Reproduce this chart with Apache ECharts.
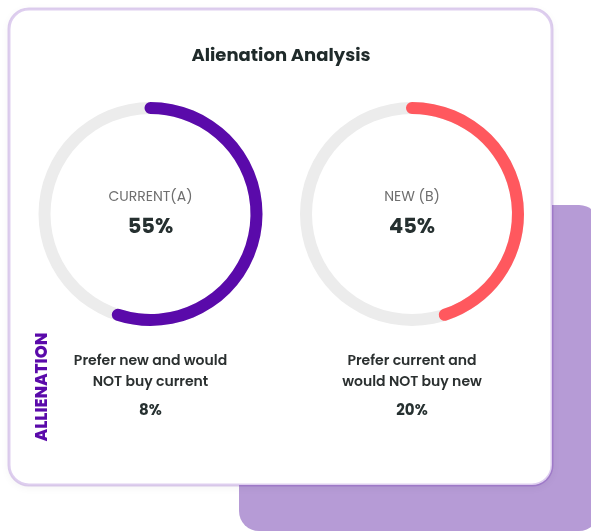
<!DOCTYPE html>
<html>
<head>
<meta charset="utf-8">
<script src="https://cdn.jsdelivr.net/npm/echarts@6/dist/echarts.min.js"></script>
<style>
html,body{margin:0;padding:0;background:#fff;}
#chart{width:591px;height:531px;}
</style>
</head>
<body>
<div id="chart"></div>
<script>
const chartTitle = 'Alienation Analysis';
const gaugeLabels = ['CURRENT(A)', 'NEW (B)'];
const gaugeValues = [55, 45];
const captionLines = [['Prefer new and would', 'NOT buy current'], ['Prefer current and', 'would NOT buy new']];
const alienationValues = [8, 20];
const sideLabel = 'ALLIENATION';

const colors = ['#5a0aaa', '#ff585e'];
const centersX = [150.5, 412];
const font = 'Poppins, Inter, "Noto Sans", sans-serif';

const chart = echarts.init(document.getElementById('chart'), null, {renderer: 'canvas'});

const series = gaugeValues.map((v, i) => ({
  type: 'gauge',
  center: [centersX[i], 214],
  radius: 112,
  startAngle: 90,
  endAngle: -270,
  min: 0,
  max: 100,
  z: 5,
  progress: {show: true, width: 12, roundCap: true, itemStyle: {color: colors[i]}},
  axisLine: {lineStyle: {width: 12, color: [[1, '#ececec']]}},
  pointer: {show: false},
  axisTick: {show: false},
  splitLine: {show: false},
  axisLabel: {show: false},
  anchor: {show: false},
  title: {offsetCenter: [0, -17], fontSize: 14, color: '#6f6f6f', fontFamily: font},
  detail: {offsetCenter: [0, 14], fontSize: 21, fontWeight: 'bold', color: '#263030', fontFamily: font,
    formatter: '{value}%'},
  data: [{value: v, name: gaugeLabels[i]}]
}));

const graphics = [
  {type: 'rect', z: 0, shape: {x: 239, y: 205, width: 360, height: 326, r: [20, 20, 20, 20]},
   style: {fill: '#b69bd6'}},
  {type: 'rect', z: 1, shape: {x: 9, y: 9, width: 543, height: 476, r: 20},
   style: {fill: '#ffffff', stroke: 'rgba(90,10,175,0.2)', lineWidth: 3,
     shadowBlur: 10, shadowColor: 'rgba(0,0,0,0.06)', shadowOffsetY: 2}},
  {type: 'text', z: 6, x: 281, y: 56,
   style: {text: chartTitle, fontSize: 18, fontWeight: 'bold', fontFamily: font, fill: '#1f2a2a',
     textAlign: 'center', textVerticalAlign: 'middle'}},
  {type: 'text', z: 6, x: 43, y: 387, rotation: Math.PI / 2,
   style: {text: sideLabel, fontSize: 16.5, fontWeight: 800, fontFamily: font, fill: '#5a0aaa',
     textAlign: 'center', textVerticalAlign: 'middle'}}
];
captionLines.forEach((lines, i) => {
  lines.forEach((ln, j) => {
    graphics.push({type: 'text', z: 6, x: centersX[i], y: 361 + j * 21,
      style: {text: ln, fontSize: 14, fontWeight: 600, fontFamily: font, fill: '#2b3030',
        textAlign: 'center', textVerticalAlign: 'middle'}});
  });
  graphics.push({type: 'text', z: 6, x: centersX[i], y: 411,
    style: {text: alienationValues[i] + '%', fontSize: 15, fontWeight: 'bold', fontFamily: font, fill: '#263030',
      textAlign: 'center', textVerticalAlign: 'middle'}});
});

chart.setOption({
  animation: false,
  graphic: graphics,
  series: series
});
</script>
</body>
</html>
